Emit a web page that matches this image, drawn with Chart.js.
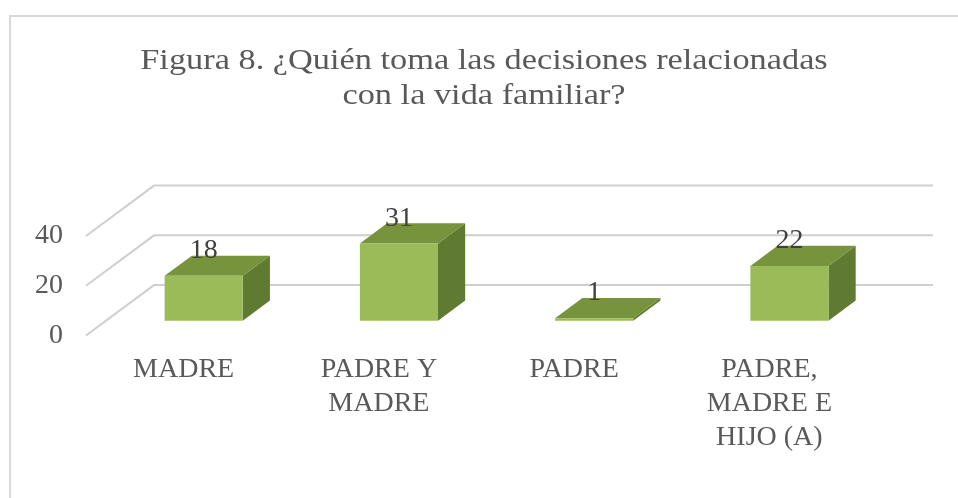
<!DOCTYPE html>
<html><head><meta charset="utf-8">
<script src="https://cdn.jsdelivr.net/npm/chart.js@4/dist/chart.umd.min.js"></script>
<style>html,body{margin:0;padding:0;background:#fff}canvas{display:block}</style>
</head><body>
<canvas id="c" width="958" height="498"></canvas>
<script>
const categories = [['MADRE'], ['PADRE Y', 'MADRE'], ['PADRE'], ['PADRE,', 'MADRE E', 'HIJO (A)']];
const values = [18, 31, 1, 22];
const yTicks = [0, 20, 40];
const titleLines = ['Figura 8. ¿Quién toma las decisiones relacionadas', 'con la vida familiar?'];

const DEPTH = {x: 68, y: -50.4};
const F1 = 0.295, F2 = 0.695;
const COLORS = {front: '#9BBB59', top: '#77933C', side: '#5F7A31', grid: '#cfcfcf', text: '#595959', label: '#404040', border: '#d9d9d9'};
const SERIF = "'Liberation Serif', 'Times New Roman', serif";
const TITLE = {size: 29, stretch: 1.184, centerX: 484, baselines: [69, 104]};

const threeD = {
  id: 'threeD',
  beforeDraw(chart) {
    const ctx = chart.ctx;
    ctx.save();
    ctx.fillStyle = '#fff';
    ctx.fillRect(0, 0, chart.width, chart.height);
    ctx.strokeStyle = COLORS.border;
    ctx.lineWidth = 2;
    ctx.strokeRect(10, 16, chart.width + 20, chart.height + 20);
    // title
    ctx.fillStyle = COLORS.text;
    ctx.font = TITLE.size + 'px ' + SERIF;
    ctx.textAlign = 'center';
    ctx.textBaseline = 'alphabetic';
    titleLines.forEach((t, i) => {
      ctx.save();
      ctx.translate(TITLE.centerX, TITLE.baselines[i]);
      ctx.scale(TITLE.stretch, 1);
      ctx.fillText(t, 0, 0);
      ctx.restore();
    });
    ctx.restore();
  },
  beforeDatasetsDraw(chart) {
    const ctx = chart.ctx;
    const xs = chart.scales.x, ys = chart.scales.y;
    ctx.save();
    ctx.strokeStyle = COLORS.grid;
    ctx.lineWidth = 2;
    yTicks.forEach(v => {
      const yf = ys.getPixelForValue(v);
      ctx.beginPath();
      ctx.moveTo(xs.left, yf);
      ctx.lineTo(xs.left + DEPTH.x, yf + DEPTH.y);
      ctx.lineTo(xs.right + DEPTH.x - 2, yf + DEPTH.y);
      ctx.stroke();
    });
    const o1 = {x: F1 * DEPTH.x, y: F1 * DEPTH.y};
    const o2 = {x: F2 * DEPTH.x, y: F2 * DEPTH.y};
    const meta = chart.getDatasetMeta(0);
    meta.data.forEach(el => {
      const p = el.getProps(['x', 'y', 'base', 'width'], true);
      const l = p.x - p.width / 2, r = p.x + p.width / 2;
      ctx.fillStyle = COLORS.side;
      ctx.beginPath();
      ctx.moveTo(r + o1.x, p.y + o1.y);
      ctx.lineTo(r + o2.x, p.y + o2.y);
      ctx.lineTo(r + o2.x, p.base + o2.y);
      ctx.lineTo(r + o1.x, p.base + o1.y);
      ctx.closePath();
      ctx.fill();
      ctx.fillStyle = COLORS.top;
      ctx.beginPath();
      ctx.moveTo(l + o1.x, p.y + o1.y);
      ctx.lineTo(r + o1.x, p.y + o1.y);
      ctx.lineTo(r + o2.x, p.y + o2.y);
      ctx.lineTo(l + o2.x, p.y + o2.y);
      ctx.closePath();
      ctx.fill();
    });
    ctx.translate(o1.x, o1.y);
  },
  afterDatasetsDraw(chart) {
    const ctx = chart.ctx;
    ctx.restore();
    const o1 = {x: F1 * DEPTH.x, y: F1 * DEPTH.y};
    const meta = chart.getDatasetMeta(0);
    ctx.save();
    ctx.font = '28px ' + SERIF;
    ctx.fillStyle = COLORS.label;
    ctx.textAlign = 'center';
    ctx.textBaseline = 'alphabetic';
    meta.data.forEach((el, i) => {
      const p = el.getProps(['x', 'y'], true);
      ctx.fillText(String(values[i]), p.x + o1.x, p.y + o1.y - 17.7);
    });
    ctx.restore();
  }
};

new Chart(document.getElementById('c'), {
  type: 'bar',
  data: {
    labels: categories,
    datasets: [{
      data: values,
      backgroundColor: COLORS.front,
      borderWidth: 0,
      categoryPercentage: 1,
      barPercentage: 0.4,
      clip: false
    }]
  },
  options: {
    responsive: false,
    animation: false,
    devicePixelRatio: 1,
    layout: {padding: {left: 10, right: 0, top: 236, bottom: 0}},
    plugins: {
      legend: {display: false},
      tooltip: {enabled: false},
      title: {display: false}
    },
    scales: {
      x: {
        grid: {display: false, drawTicks: false},
        border: {display: false},
        ticks: {
          color: COLORS.text,
          font: {family: SERIF, size: 28, lineHeight: 1.215},
          padding: 17,
          maxRotation: 0,
          autoSkip: false
        },
        afterFit(s) { s.height = 162.5; }
      },
      y: {
        min: 0, max: 40,
        grid: {display: false, drawTicks: false},
        border: {display: false},
        ticks: {
          stepSize: 20,
          color: COLORS.text,
          font: {family: SERIF, size: 28},
          padding: 23
        },
        afterFit(s) { s.width = 76; }
      },
      y2: {
        position: 'right',
        min: 0, max: 40,
        grid: {display: false, drawTicks: false},
        border: {display: false},
        ticks: {display: false},
        afterFit(s) { s.width = 91; }
      }
    }
  },
  plugins: [threeD]
});
</script>
</body></html>
